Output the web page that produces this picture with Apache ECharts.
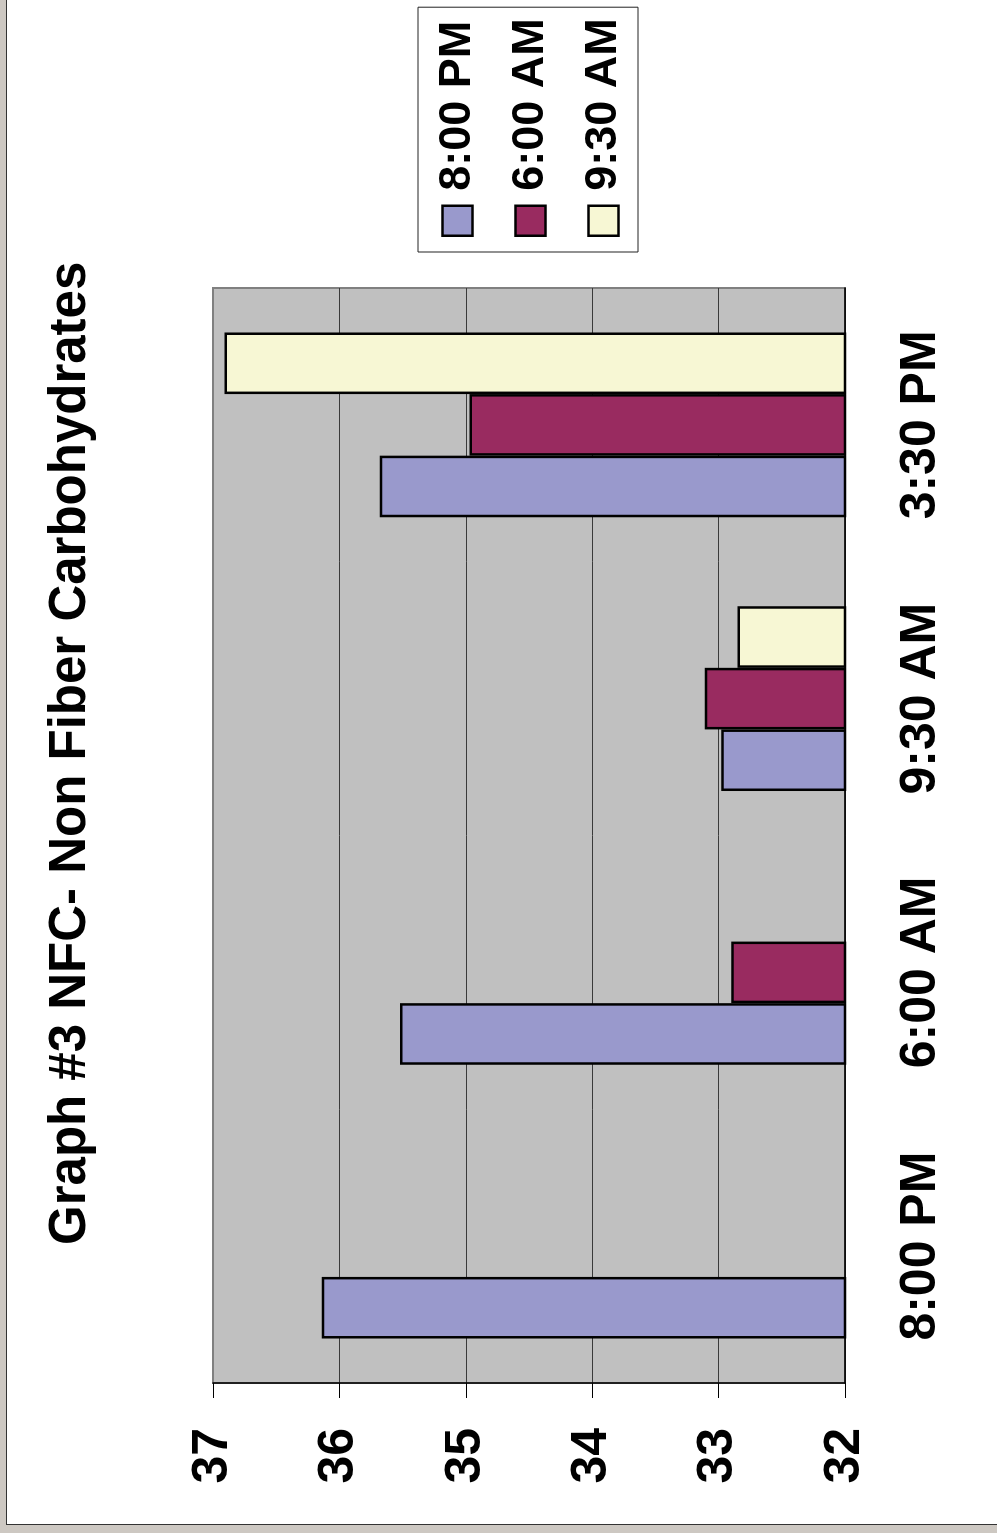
<!DOCTYPE html>
<html>
<head>
<meta charset="utf-8">
<script src="https://cdn.jsdelivr.net/npm/echarts@6/dist/echarts.min.js"></script>
<style>
  html, body { margin: 0; padding: 0; width: 997px; height: 1533px; overflow: hidden; background: #cdc8c2; }
  #sheet {
    position: absolute; left: 6px; top: 0; width: 991px; height: 1525px;
    background: #ffffff; box-sizing: border-box;
    border-left: 1px solid #333; border-bottom: 1px solid #333;
  }
  /* the chart is laid out landscape and turned a quarter turn counter-clockwise */
  #chart {
    position: absolute; left: 0; top: 0; width: 1533px; height: 997px;
    transform-origin: 0 0; transform: translateY(1533px) rotate(-90deg);
  }
</style>
</head>
<body>
<div id="sheet"></div>
<div id="chart"></div>
<script>
const titleText = 'Graph #3 NFC- Non Fiber Carbohydrates';
const categories = ['8:00 PM', '6:00 AM', '9:30 AM', '3:30 PM'];
const seriesNames = ['8:00 PM', '6:00 AM', '9:30 AM'];
const values8PM = [36.14, 35.52, 32.98, 35.68];
const values6AM = [null, 32.90, 33.11, 34.97];
const values930AM = [null, null, 32.85, 36.91];
const seriesColors = ['#9999cc', '#992b60', '#f7f7d4'];
const valueMin = 32, valueMax = 37, valueStep = 1;

const FONT = '"Liberation Sans", Arial, sans-serif';
const chart = echarts.init(document.getElementById('chart'), null, { renderer: 'canvas' });

const seriesData = [values8PM, values6AM, values930AM];

chart.setOption({
  backgroundColor: 'transparent',
  animation: false,
  title: {
    text: titleText,
    left: 288, top: 45, padding: 0,
    textStyle: { fontFamily: FONT, fontSize: 51, fontWeight: 'bold', color: '#000' }
  },
  legend: {
    orient: 'vertical',
    left: 1281, top: 418,
    padding: [17, 11, 12, 15],
    itemGap: 28,
    itemWidth: 30, itemHeight: 30,
    icon: 'rect',
    backgroundColor: '#fff',
    borderColor: '#222', borderWidth: 1,
    data: seriesNames,
    itemStyle: { borderColor: '#000', borderWidth: 2.5 },
    textStyle: { fontFamily: FONT, fontSize: 45, fontWeight: 'bold', color: '#000', padding: [0, 0, 0, 10] }
  },
  grid: {
    left: 150, right: 288, top: 213, bottom: 152,
    show: true, backgroundColor: '#c0c0c0',
    borderColor: '#808080', borderWidth: 2
  },
  xAxis: {
    type: 'category',
    data: categories,
    axisLine: { lineStyle: { color: '#000', width: 1.5 } },
    axisTick: { length: 15, lineStyle: { color: '#000', width: 1 } },
    axisLabel: { fontFamily: FONT, fontSize: 50, fontWeight: 'bold', color: '#000', margin: 51 }
  },
  yAxis: {
    type: 'value',
    min: valueMin, max: valueMax, interval: valueStep,
    axisLine: { show: true, lineStyle: { color: '#000', width: 1.5 } },
    axisTick: { show: true, length: 15, lineStyle: { color: '#000', width: 1 } },
    axisLabel: { fontFamily: FONT, fontSize: 50, fontWeight: 'bold', color: '#000', margin: 45 },
    splitLine: { lineStyle: { color: ['#3a3a3a', '#3a3a3a', '#3a3a3a', '#3a3a3a', '#3a3a3a', '#808080'], width: 1 } }
  },
  series: seriesNames.map((name, i) => ({
    name,
    type: 'bar',
    data: seriesData[i],
    barGap: '0%',
    barCategoryGap: '32.5%',
    itemStyle: { color: seriesColors[i], borderColor: '#000', borderWidth: 2.5 }
  }))
});
</script>
</body>
</html>
